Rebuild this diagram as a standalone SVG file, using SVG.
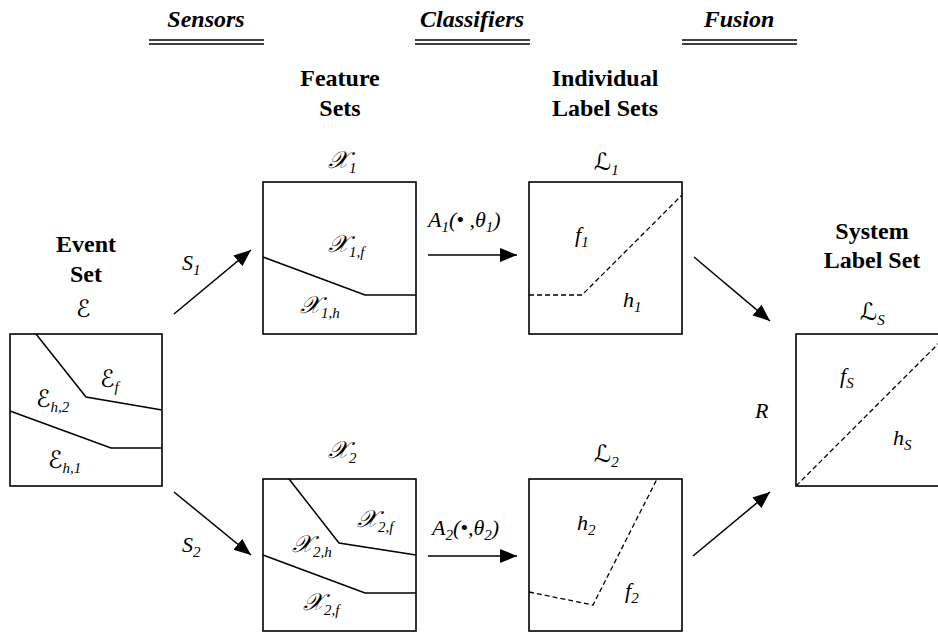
<svg xmlns="http://www.w3.org/2000/svg" width="938" height="634" viewBox="0 0 938 634">
<style>
text{fill:#000}
.b{font-weight:bold;font-size:24px;text-anchor:middle}
.hd{font-weight:bold;font-style:italic;font-size:24px;text-anchor:middle}
.m{font-style:italic;font-size:22px}
.sc{font-style:italic;font-size:24px}
.sub{font-style:italic;font-size:15px}
.box{fill:#fff;stroke:#000;stroke-width:1.6}
.ln{fill:none;stroke:#000;stroke-width:1.5}
.ds{fill:none;stroke:#000;stroke-width:1.3;stroke-dasharray:5 3}
.ar{fill:none;stroke:#000;stroke-width:1.5;marker-end:url(#ah)}
.dl{stroke:#000;stroke-width:1.6}
</style>
<defs>
<marker id="ah" markerUnits="userSpaceOnUse" markerWidth="18" markerHeight="16" refX="17" refY="7" orient="auto">
<path d="M0,0 L17,7 L0,14 Z" fill="#000"/>
</marker>
</defs>
<rect width="938" height="634" fill="#fff"/>

<g id="headers">
<text class="hd" x="206" y="27" font-family="Liberation Serif">Sensors</text>
<line class="dl" x1="149" y1="40" x2="264" y2="40"/><line class="dl" x1="149" y1="44" x2="264" y2="44"/>
<text class="hd" x="472" y="27" font-family="Liberation Serif">Classifiers</text>
<line class="dl" x1="415" y1="40" x2="530" y2="40"/><line class="dl" x1="415" y1="44" x2="530" y2="44"/>
<text class="hd" x="739" y="27" font-family="Liberation Serif">Fusion</text>
<line class="dl" x1="682" y1="40" x2="797" y2="40"/><line class="dl" x1="682" y1="44" x2="797" y2="44"/>
</g>

<g id="event-set">
<text class="b" x="86" y="252" font-family="Liberation Serif">Event</text>
<text class="b" x="86" y="282" font-family="Liberation Serif">Set</text>
<text class="sc" x="76" y="317" font-family="DejaVu Sans">&#x2130;</text>
<rect class="box" x="10" y="334" width="152" height="152"/>
<polyline class="ln" points="36,334 86,397 162,410"/>
<polyline class="ln" points="10,411 111,448 162,448"/>
<text class="sc" x="100" y="387" font-family="DejaVu Sans">&#x2130;<tspan class="sub" dy="5" font-family="Liberation Serif">f</tspan></text>
<text class="sc" x="36" y="407" font-family="DejaVu Sans">&#x2130;<tspan class="sub" dy="5" font-family="Liberation Serif">h,2</tspan></text>
<text class="sc" x="48" y="468" font-family="DejaVu Sans">&#x2130;<tspan class="sub" dy="5" font-family="Liberation Serif">h,1</tspan></text>
</g>

<g id="feature-set-1">
<text class="b" x="340" y="86" font-family="Liberation Serif">Feature</text>
<text class="b" x="340" y="116" font-family="Liberation Serif">Sets</text>
<text class="sc" x="328" y="168" font-family="Liberation Serif">&#x1D4B3;<tspan class="sub" dy="5">1</tspan></text>
<rect class="box" x="263" y="182" width="153" height="152"/>
<polyline class="ln" points="263,257 365,295 416,295"/>
<text class="sc" x="328" y="252" font-family="Liberation Serif">&#x1D4B3;<tspan class="sub" dy="5">1,f</tspan></text>
<text class="sc" x="300" y="313" font-family="Liberation Serif">&#x1D4B3;<tspan class="sub" dy="5">1,h</tspan></text>
</g>

<g id="feature-set-2">
<text class="sc" x="328" y="458" font-family="Liberation Serif">&#x1D4B3;<tspan class="sub" dy="5">2</tspan></text>
<rect class="box" x="263" y="479" width="153" height="152"/>
<polyline class="ln" points="289,479 339,543 416,555"/>
<polyline class="ln" points="263,555 365,593 416,593"/>
<text class="sc" x="357" y="527" font-family="Liberation Serif">&#x1D4B3;<tspan class="sub" dy="5">2,f</tspan></text>
<text class="sc" x="292" y="552" font-family="Liberation Serif">&#x1D4B3;<tspan class="sub" dy="5">2,h</tspan></text>
<text class="sc" x="303" y="610" font-family="Liberation Serif">&#x1D4B3;<tspan class="sub" dy="5">2,f</tspan></text>
</g>

<g id="label-set-1">
<text class="b" x="605" y="86" font-family="Liberation Serif">Individual</text>
<text class="b" x="605" y="116" font-family="Liberation Serif">Label Sets</text>
<text class="sc" x="594" y="170" font-family="DejaVu Sans">&#x2112;<tspan class="sub" dy="5" font-family="Liberation Serif">1</tspan></text>
<rect class="box" x="529" y="182" width="153" height="152"/>
<polyline class="ds" points="529,295 582,295 682,195"/>
<text class="m" x="575" y="242" font-family="Liberation Serif">f<tspan class="sub" dy="5">1</tspan></text>
<text class="m" x="623" y="307" font-family="Liberation Serif">h<tspan class="sub" dy="5">1</tspan></text>
</g>

<g id="label-set-2">
<text class="sc" x="594" y="462" font-family="DejaVu Sans">&#x2112;<tspan class="sub" dy="5" font-family="Liberation Serif">2</tspan></text>
<rect class="box" x="529" y="479" width="153" height="152"/>
<polyline class="ds" points="529,592 593,605 657,479"/>
<text class="m" x="577" y="530" font-family="Liberation Serif">h<tspan class="sub" dy="5">2</tspan></text>
<text class="m" x="625" y="598" font-family="Liberation Serif">f<tspan class="sub" dy="5">2</tspan></text>
</g>

<g id="system-label-set">
<text class="b" x="872" y="239" font-family="Liberation Serif">System</text>
<text class="b" x="872" y="268" font-family="Liberation Serif">Label Set</text>
<text class="sc" x="860" y="320" font-family="DejaVu Sans">&#x2112;<tspan class="sub" dy="5" font-family="Liberation Serif">S</tspan></text>
<rect class="box" x="796" y="334" width="152" height="152"/>
<line class="ds" x1="796" y1="486" x2="948" y2="334"/>
<text class="m" x="840" y="383" font-family="Liberation Serif">f<tspan class="sub" dy="5">S</tspan></text>
<text class="m" x="893" y="445" font-family="Liberation Serif">h<tspan class="sub" dy="5">S</tspan></text>
</g>

<g id="connectors">
<line class="ar" x1="174" y1="314" x2="251" y2="250"/>
<line class="ar" x1="174" y1="492" x2="251" y2="555"/>
<line class="ar" x1="428" y1="255" x2="517" y2="255"/>
<line class="ar" x1="428" y1="556" x2="517" y2="556"/>
<line class="ar" x1="694" y1="257" x2="770" y2="321"/>
<line class="ar" x1="693" y1="556" x2="770" y2="492"/>
<text class="m" x="182" y="270" font-family="Liberation Serif">S<tspan class="sub" dy="5">1</tspan></text>
<text class="m" x="182" y="552" font-family="Liberation Serif">S<tspan class="sub" dy="5">2</tspan></text>
<text class="m" x="428" y="227" font-family="Liberation Serif">A<tspan class="sub" dy="5">1</tspan><tspan dy="-5">(&#x2022; ,&#x3B8;</tspan><tspan class="sub" dy="5">1</tspan><tspan dy="-5">)</tspan></text>
<text class="m" x="432" y="535" font-family="Liberation Serif">A<tspan class="sub" dy="5">2</tspan><tspan dy="-5">(&#x2022;,&#x3B8;</tspan><tspan class="sub" dy="5">2</tspan><tspan dy="-5">)</tspan></text>
<text class="m" x="755" y="418" font-family="Liberation Serif">R</text>
</g>
</svg>
